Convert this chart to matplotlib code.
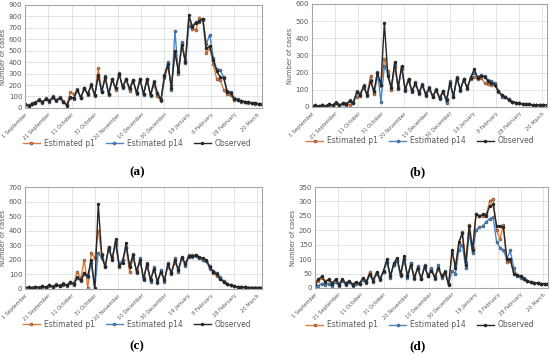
import numpy as np
import matplotlib
matplotlib.use("Agg")
import matplotlib.pyplot as plt

# ---- data: daily cases sampled every 3 days, 1 September -> 24 March ----
days = np.arange(0, 205, 3)
date_ticks = np.arange(0, 201, 20)
date_labels = ["1 September", "21 September", "11 October", "31 October",
               "20 November", "10 December", "30 December", "19 January",
               "8 February", "28 February", "20 March"]
series_names = ["Estimated p1", "Estimated p14", "Observed"]

obs_a = [30, 20, 35, 45, 70, 50, 80, 60, 95, 65,
         90, 55, 20, 95, 85, 160, 90, 170, 120, 200,
         110, 290, 140, 270, 120, 250, 170, 300, 180, 250,
         170, 240, 130, 250, 120, 250, 110, 230, 130, 70,
         280, 380, 170, 500, 310, 550, 400, 810, 710, 740,
         760, 780, 520, 540, 420, 320, 270, 260, 140, 130,
         80, 70, 60, 55, 50, 45, 40, 35, 30]
p1_a = [25, 25, 30, 50, 65, 55, 75, 65, 90, 70,
        85, 60, 30, 140, 120, 150, 95, 165, 130, 195,
        115, 345, 150, 260, 125, 255, 160, 290, 190, 245,
        150, 235, 140, 245, 125, 240, 115, 200, 100, 60,
        260, 360, 200, 470, 330, 570, 420, 770, 690, 680,
        790, 770, 480, 520, 380, 250, 240, 160, 120, 110,
        70, 65, 55, 50, 45, 40, 38, 33, 30]
p14_a = [35, 15, 40, 40, 75, 45, 85, 55, 100, 60,
         95, 50, 25, 90, 80, 165, 85, 175, 115, 205,
         105, 280, 135, 275, 115, 245, 175, 305, 175, 255,
         165, 245, 125, 255, 115, 255, 105, 235, 125, 75,
         290, 400, 160, 670, 300, 580, 390, 720, 720, 750,
         750, 780, 560, 640, 440, 340, 330, 270, 150, 140,
         90, 75, 62, 56, 50, 45, 40, 35, 30]

obs_b = [5, 8, 3, 10, 5, 15, 8, 25, 10, 20,
         15, 35, 25, 85, 70, 120, 70, 150, 90, 200,
         130, 490, 180, 110, 260, 110, 240, 100, 160, 90,
         140, 80, 130, 70, 110, 60, 100, 50, 90, 40,
         140, 60, 170, 100, 160, 110, 170, 220, 170, 180,
         175, 150, 140, 130, 90, 70, 55, 40, 30, 25,
         20, 18, 15, 14, 12, 11, 10, 10, 10]
p1_b = [6, 6, 5, 8, 7, 12, 10, 20, 12, 18,
        20, 10, 30, 60, 80, 110, 80, 180, 75, 170,
        120, 280, 210, 100, 230, 120, 220, 110, 150, 100,
        130, 90, 120, 80, 100, 70, 90, 60, 80, 45,
        130, 70, 160, 110, 150, 120, 165, 175, 160, 170,
        140, 135, 130, 125, 85, 70, 55, 45, 30, 25,
        20, 18, 16, 14, 12, 11, 10, 10, 10]
p14_b = [4, 10, 2, 12, 4, 18, 6, 28, 8, 22,
         12, 38, 22, 90, 65, 125, 65, 155, 85, 205,
         30, 240, 190, 115, 250, 105, 230, 95, 165, 85,
         145, 75, 135, 65, 115, 55, 105, 45, 95, 20,
         150, 55, 175, 95, 165, 105, 175, 200, 175, 185,
         180, 155, 150, 140, 95, 60, 60, 45, 30, 25,
         20, 18, 15, 14, 12, 11, 10, 10, 10]

obs_c = [10, 12, 8, 15, 10, 18, 12, 25, 15, 30,
         20, 35, 25, 45, 35, 80, 60, 110, 90, 200,
         5, 585, 230, 150, 290, 200, 340, 160, 180, 315,
         150, 230, 120, 200, 70, 170, 60, 140, 50, 120,
         60, 170, 110, 200, 130, 220, 170, 225, 225, 230,
         220, 210, 200, 150, 120, 100, 70, 50, 35, 25,
         20, 15, 12, 12, 10, 10, 10, 10, 10]
p1_c = [10, 10, 10, 12, 12, 15, 15, 20, 18, 25,
        25, 30, 30, 40, 40, 120, 70, 200, 5, 250,
        210, 400, 240, 160, 270, 220, 300, 150, 200, 280,
        120, 210, 130, 180, 80, 160, 70, 130, 60, 110,
        70, 150, 120, 180, 140, 210, 180, 230, 230, 235,
        215, 200, 190, 160, 110, 90, 70, 50, 35, 25,
        20, 15, 12, 12, 10, 10, 10, 10, 10]
p14_c = [8, 12, 6, 15, 8, 20, 10, 28, 12, 32,
         18, 38, 22, 50, 30, 75, 55, 100, 80, 180,
         0, 250, 210, 160, 280, 210, 320, 170, 200, 290,
         160, 240, 110, 210, 60, 180, 50, 150, 40, 130,
         50, 180, 100, 210, 120, 215, 160, 220, 220, 225,
         215, 200, 190, 140, 125, 110, 80, 55, 35, 25,
         20, 15, 12, 12, 10, 10, 10, 10, 10]

obs_d = [15, 30, 40, 20, 30, 15, 30, 10, 30, 15,
         25, 10, 20, 15, 35, 20, 50, 25, 55, 30,
         60, 100, 40, 85, 105, 45, 110, 40, 80, 35,
         70, 30, 75, 40, 60, 35, 70, 40, 55, 10,
         130, 70, 160, 190, 80, 215, 130, 255, 250, 255,
         250, 285, 290, 215, 215, 210, 100, 100, 50, 45,
         40, 30, 25, 20, 18, 16, 15, 14, 12]
p1_d = [20, 25, 35, 25, 28, 18, 28, 15, 28, 18,
        22, 15, 18, 18, 30, 25, 55, 30, 50, 35,
        55, 90, 45, 80, 95, 50, 100, 45, 85, 40,
        65, 35, 70, 45, 65, 40, 65, 45, 50, 15,
        120, 80, 150, 195, 90, 220, 140, 255, 250, 250,
        255, 300, 310, 200, 170, 220, 90, 95, 55, 45,
        40, 30, 25, 20, 18, 16, 15, 14, 12]
p14_d = [5, 8, 15, 10, 15, 8, 20, 8, 25, 10,
         20, 8, 15, 12, 28, 18, 45, 22, 50, 28,
         55, 90, 35, 80, 95, 40, 100, 35, 85, 30,
         75, 30, 80, 40, 70, 30, 80, 35, 60, 12,
         60, 50, 130, 150, 70, 190, 120, 200, 210, 215,
         230, 240, 245, 160, 140, 130, 100, 130, 70, 40,
         35, 35, 25, 20, 18, 16, 15, 14, 12]

COLORS = ["#E07B39", "#4A86C5", "#262626"]
GREY = "#595959"


def draw_panel(ax, series, ymax, ystep):
    for vals, name, c in zip(series, series_names, COLORS):
        ax.plot(days, vals, color=c, lw=1.0, marker="o", ms=2.2, mew=0.3,
                mec="#333333" if c != COLORS[2] else c, label=name)
    ax.set_xlim(0, 204)
    ax.set_ylim(0, ymax)
    ax.set_yticks(np.arange(0, ymax + 1, ystep))
    ax.set_xticks(date_ticks)
    ax.set_xticklabels(date_labels, rotation=45, ha="right",
                       rotation_mode="anchor", fontsize=3.7, color=GREY)
    ax.tick_params(axis="y", labelsize=5, colors=GREY, length=0, pad=2)
    ax.tick_params(axis="x", length=0, pad=3)
    ax.grid(True, color="#D9D9D9", lw=0.5)
    ax.set_axisbelow(True)
    for s in ax.spines.values():
        s.set_color("#A6A6A6")
        s.set_linewidth(0.8)
    ax.set_ylabel("Number of cases", fontsize=4.8, color=GREY, labelpad=2)


fig = plt.figure(figsize=(5.5, 3.55), dpi=100)
panels = [
    ([p1_a, p14_a, obs_a], 900, 100, [0.0455, 0.696, 0.431, 0.290], (0.249, 0.597), (0.249, 0.515), "(a)"),
    ([p1_b, p14_b, obs_b], 600, 100, [0.567, 0.699, 0.427, 0.290], (0.764, 0.603), (0.760, 0.515), "(b)"),
    ([p1_c, p14_c, obs_c], 700, 100, [0.0455, 0.186, 0.431, 0.287], (0.249, 0.087), (0.249, 0.025), "(c)"),
    ([p1_d, p14_d, obs_d], 350, 50, [0.5727, 0.189, 0.4236, 0.284], (0.764, 0.085), (0.760, 0.025), "(d)"),
]
for series, ymax, ystep, rect, leg_xy, lab_xy, lab in panels:
    ax = fig.add_axes(rect)
    draw_panel(ax, series, ymax, ystep)
    h, l = ax.get_legend_handles_labels()
    fig.legend(h, l, loc="center", bbox_to_anchor=leg_xy, ncol=3, frameon=False,
               fontsize=5.5, labelcolor=GREY, handlelength=2.2, columnspacing=1.5,
               handletextpad=0.5)
    fig.text(lab_xy[0], lab_xy[1], lab, ha="center", va="center", fontsize=9.5,
             family="Liberation Serif", fontweight="bold")

fig.savefig("out.png", dpi=100)
